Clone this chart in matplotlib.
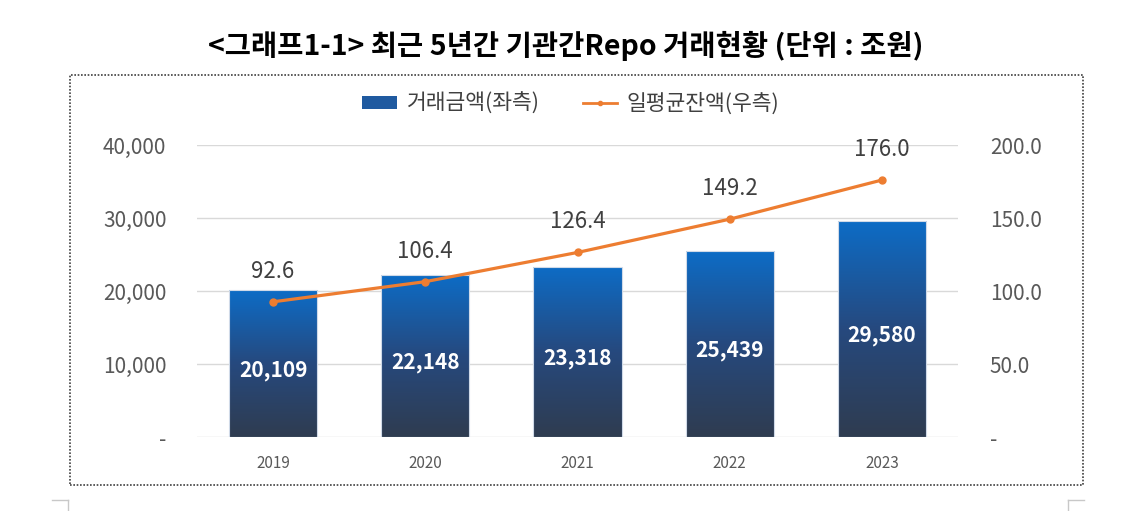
import matplotlib
matplotlib.use('Agg')
import matplotlib.pyplot as plt
import numpy as np
from matplotlib.colors import LinearSegmentedColormap
from matplotlib.patches import Rectangle
from matplotlib.lines import Line2D

plt.rcParams['font.family'] = ['Noto Sans CJK KR', 'DejaVu Sans']

# 데이터
years = ['2019', '2020', '2021', '2022', '2023']
trade_amount = [20109, 22148, 23318, 25439, 29580]    # 거래금액(좌측)
avg_balance = [92.6, 106.4, 126.4, 149.2, 176.0]      # 일평균잔액(우측)
left_ticks = [0, 10000, 20000, 30000, 40000]
left_labels = ['-', '10,000', '20,000', '30,000', '40,000']
right_ticks = [0, 50, 100, 150, 200]
right_labels = ['-', '50.0', '100.0', '150.0', '200.0']

W, H = 1137, 511
fig = plt.figure(figsize=(W / 100, H / 100), dpi=100)
fig.patch.set_facecolor('white')

ax = fig.add_axes([197 / W, (H - 437) / H, (958 - 197) / W, (437 - 145) / H])
ax2 = ax.twinx()

x = np.arange(len(years))
bars = ax.bar(x, trade_amount, width=0.58, color='none', edgecolor='#d0dae8',
              linewidth=0.8, zorder=2)

# 막대 그라데이션 (위: 파랑, 아래: 남색)
cmap = LinearSegmentedColormap.from_list('bar', ['#2f3c50', '#26497e', '#0d6cc6'])
grad = np.linspace(0, 1, 256).reshape(-1, 1)
for b in bars:
    bx, by = b.get_x(), b.get_y()
    bw, bh = b.get_width(), b.get_height()
    im = ax.imshow(grad, cmap=cmap, aspect='auto', origin='lower',
                   extent=[bx, bx + bw, by, by + bh], zorder=1.5)
    im.set_clip_path(b)

for xi, v in zip(x, trade_amount):
    ax.text(xi, v / 2 - 900, f'{v:,}', ha='center', va='center', color='white',
            fontsize=15, fontweight='bold', zorder=5)

ax.set_xlim(-0.5, 4.5)
ax.set_ylim(0, 40000)
ax.set_yticks(left_ticks)
ax.set_yticklabels(left_labels)
ax.set_xticks(x)
ax.set_xticklabels(years)
ax.grid(axis='y', color='#d9d9d9', linewidth=1, zorder=0)
ax.set_axisbelow(True)
for s in ax.spines.values():
    s.set_visible(False)
for s in ax2.spines.values():
    s.set_visible(False)
ax.tick_params(axis='y', length=0, pad=22, labelsize=15, labelcolor='#595959')
ax.tick_params(axis='x', length=0, pad=13, labelsize=11, labelcolor='#595959')

ax2.plot(x, avg_balance, color='#ed7d31', linewidth=2.3, marker='o',
         markersize=5, zorder=4)
ax2.set_ylim(0, 200)
ax2.set_yticks(right_ticks)
ax2.set_yticklabels(right_labels)
ax2.tick_params(axis='y', length=0, pad=23, labelsize=15, labelcolor='#595959')
for xi, v in zip(x, avg_balance):
    ax2.annotate(f'{v:.1f}', (xi, v), xytext=(0, 22), textcoords='offset points',
                 ha='center', va='center', fontsize=16, color='#404040',
                 annotation_clip=False)

# 범례
handles = [Rectangle((0, 0), 1, 1, facecolor='#1f5aa0', edgecolor='none'),
           Line2D([0], [0], color='#ed7d31', linewidth=2, marker='o', markersize=3)]
fig.legend(handles, ['거래금액(좌측)', '일평균잔액(우측)'], loc='center',
           bbox_to_anchor=(571 / W, 1 - 104 / H), ncol=2, frameon=False,
           fontsize=15.5, handlelength=1.6, handleheight=0.5, handletextpad=0.45,
           columnspacing=2.0, labelcolor='#404040')

# 제목
fig.text(566 / W, 1 - 46 / H, '<그래프1-1> 최근 5년간 기관간Repo 거래현황 (단위 : 조원)',
         ha='center', va='center', fontsize=20.5, fontweight='bold', color='black')

# 점선 테두리
fig.add_artist(Rectangle((70 / W, 1 - 485 / H), (1083 - 70) / W, (485 - 75) / H,
                         transform=fig.transFigure, fill=False, edgecolor='#404040',
                         linestyle=(0, (1, 1)), linewidth=1.2))

# 아래 모서리 표시
for xs, xv in [((52, 68), 68), ((1068, 1084), 1068)]:
    fig.add_artist(Line2D([xs[0] / W, xs[1] / W], [1 - 500 / H, 1 - 500 / H],
                          transform=fig.transFigure, color='#c8c8c8', linewidth=1))
    fig.add_artist(Line2D([xv / W, xv / W], [1 - 500 / H, 0],
                          transform=fig.transFigure, color='#c8c8c8', linewidth=1))

fig.savefig('out.png', dpi=100)
